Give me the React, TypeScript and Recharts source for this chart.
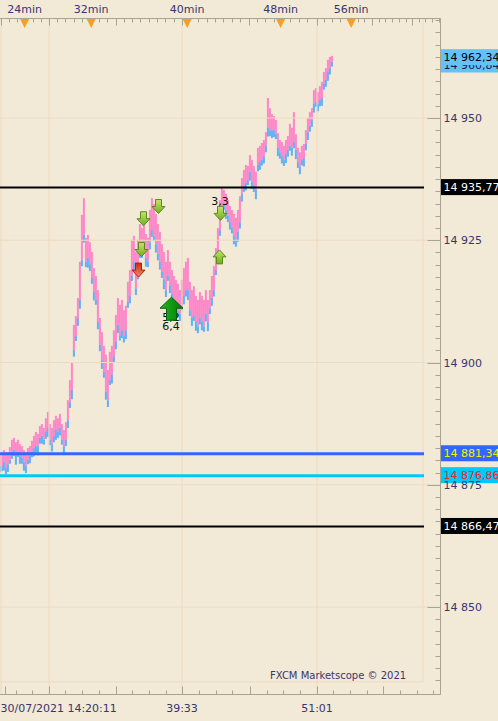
import React from "react";
import { ComposedChart, Bar, XAxis, YAxis, ReferenceLine, ReferenceDot } from "recharts";

// ---- price series (ask high / ask low per tick column, bid spread below) ----
const askHigh = [
  14881.1, 14881.7, 14882.1, 14881.1, 14881.7, 14882.7, 14884.2, 14884.6, 14883.7, 14884.2,
  14883.3, 14882.9, 14882.1, 14881.7, 14882.5, 14882.9, 14884.0, 14885.0, 14885.8, 14885.4,
  14887.0, 14887.4, 14886.6, 14888.6, 14889.9, 14887.4, 14886.6, 14888.2, 14889.1, 14888.6,
  14889.5, 14887.4, 14886.2, 14887.8, 14892.3, 14896.4, 14900.1, 14907.7, 14909.5, 14913.2,
  14920.6, 14930.2, 14933.6, 14925.5, 14926.1, 14924.6, 14922.6, 14919.3, 14917.7, 14914.8,
  14909.1, 14906.2, 14903.4, 14901.6, 14898.5, 14902.2, 14903.4, 14906.6, 14909.7, 14913.2,
  14911.8, 14912.8, 14910.7, 14911.6, 14916.5, 14918.9, 14925.1, 14925.9, 14922.6, 14925.1,
  14928.3, 14927.5, 14928.7, 14926.3, 14925.5, 14931.2, 14933.6, 14932.4, 14930.4, 14928.3,
  14926.7, 14924.2, 14922.6, 14920.6, 14923.0, 14920.6, 14918.9, 14917.7, 14916.9, 14916.1,
  14914.8, 14916.9, 14919.3, 14920.6, 14921.4, 14916.5, 14914.8, 14915.6, 14913.6, 14912.8,
  14914.4, 14913.6, 14912.8, 14914.8, 14912.8, 14914.8, 14917.7, 14919.7, 14923.4, 14927.5,
  14933.2, 14935.7, 14935.3, 14934.5, 14933.2, 14932.0, 14931.2, 14930.4, 14929.6, 14931.2,
  14934.0, 14937.7, 14939.4, 14940.4, 14940.2, 14942.4, 14941.4, 14940.2, 14939.0, 14943.9,
  14944.3, 14944.9, 14945.5, 14947.1, 14954.1, 14952.0, 14950.8, 14950.4, 14949.6, 14946.9,
  14945.5, 14945.1, 14944.3, 14945.5, 14946.3, 14948.8, 14948.0, 14951.2, 14946.7, 14943.9,
  14943.0, 14944.3, 14944.7, 14947.5, 14950.0, 14951.2, 14952.0, 14955.7, 14956.1, 14955.3,
  14956.5, 14957.4, 14959.4, 14960.2, 14961.9, 14962.5, 14962.7,
];
const askLow = [
  14879.0, 14878.8, 14879.7, 14878.4, 14879.2, 14880.1, 14881.7, 14882.1, 14881.1, 14881.7,
  14880.9, 14880.5, 14879.7, 14878.8, 14880.1, 14880.9, 14881.7, 14882.5, 14882.9, 14882.9,
  14884.6, 14885.0, 14884.2, 14885.8, 14886.6, 14884.2, 14883.3, 14885.0, 14886.2, 14885.8,
  14886.6, 14884.2, 14882.9, 14884.2, 14888.2, 14891.9, 14894.4, 14902.6, 14905.4, 14909.1,
  14912.8, 14921.0, 14926.1, 14920.6, 14921.4, 14920.1, 14917.3, 14914.4, 14912.8, 14908.3,
  14903.6, 14900.5, 14898.1, 14894.0, 14892.3, 14896.4, 14897.6, 14901.3, 14904.2, 14907.7,
  14905.6, 14906.6, 14905.4, 14906.6, 14912.4, 14913.6, 14917.7, 14920.6, 14915.2, 14918.9,
  14922.6, 14923.0, 14923.8, 14921.4, 14920.6, 14924.6, 14927.1, 14925.9, 14924.2, 14922.2,
  14920.6, 14918.5, 14916.9, 14914.8, 14917.7, 14915.8, 14914.0, 14912.8, 14912.0, 14910.7,
  14909.9, 14911.8, 14913.6, 14914.8, 14914.8, 14910.7, 14909.1, 14909.5, 14908.3, 14907.4,
  14909.1, 14908.3, 14907.4, 14909.9, 14908.3, 14911.1, 14913.2, 14914.8, 14918.9, 14923.0,
  14927.1, 14931.2, 14932.2, 14931.2, 14930.0, 14928.7, 14927.5, 14925.9, 14925.1, 14926.7,
  14928.7, 14934.5, 14936.1, 14936.7, 14937.3, 14939.0, 14936.9, 14936.1, 14935.3, 14940.4,
  14941.0, 14941.4, 14942.2, 14944.3, 14948.0, 14947.5, 14947.5, 14947.5, 14946.7, 14943.9,
  14943.0, 14942.2, 14941.4, 14942.6, 14943.5, 14944.3, 14943.9, 14945.1, 14943.5, 14941.0,
  14940.0, 14941.4, 14941.8, 14944.7, 14947.1, 14948.4, 14949.6, 14952.9, 14953.3, 14952.9,
  14953.7, 14954.1, 14957.0, 14957.8, 14959.4, 14960.2, 14961.5,
];
const bidSpread = [
  1.4, 1.0, 1.8, 1.2, 1.6, 0.8, 1.4, 1.2, 2.0, 1.0,
  1.6, 1.2, 1.8, 1.4, 0.9, 1.5, 1.1, 1.7, 1.3, 1.9,
  1.2, 1.6, 1.0, 1.4, 1.8, 1.1, 1.5, 1.3, 2.0, 1.2,
  1.5, 1.0, 1.7, 1.3, 1.6, 1.2, 1.9, 1.4, 1.0, 1.6,
  1.8, 1.3, 1.6, 1.1, 2.0, 1.4, 1.2, 1.7, 1.0, 1.5,
  1.3, 1.8, 1.2, 1.6, 1.4, 1.0, 1.9, 1.3, 1.5, 1.7,
  1.1, 1.6, 1.3, 1.8, 1.2, 1.5, 1.0, 1.7, 1.4, 1.9,
  1.2, 1.6, 1.3, 1.8, 1.1, 1.5, 1.4, 1.0, 1.7, 1.3,
  1.6, 1.2, 1.9, 1.4, 1.0, 1.6, 1.3, 1.8, 1.2, 1.5,
  1.4, 1.1, 1.7, 1.3, 2.0, 1.2, 1.6, 1.0, 1.8, 1.4,
  1.3, 1.7, 1.1, 1.5, 1.9, 1.2, 1.6, 1.3, 1.0, 1.4,
  1.2, 1.6, 1.0, 1.8, 1.3, 1.5, 1.1, 1.7, 1.4, 2.0,
  1.3, 1.6, 1.2, 1.5, 1.0, 1.8, 1.4, 1.2, 1.9, 1.3,
  1.6, 1.1, 1.5, 1.3, 1.8, 1.2, 1.6, 1.4, 1.0, 1.7,
  1.3, 1.5, 1.2, 1.8, 1.4, 1.0, 1.6, 1.3, 1.9, 1.2,
  1.5, 1.1, 1.7, 1.3, 1.6, 1.2, 1.4, 1.8, 1.0, 1.5,
  1.3, 1.6, 1.2, 1.4, 1.8, 1.3, 1.0,
];

// ---- axes ----
const Y_MIN = 14832.11;
const Y_MAX = 14970.35;
const X_MAX = 220.25;
const yLabelValues = [14850, 14875, 14900, 14925, 14950];
const yTickValues: number[] = [];
for (let v = 14835; v <= 14970; v += 2.5) yTickValues.push(v);

const topLabelText = ["24min", "32min", "40min", "48min", "56min"];
const topLabelIdx = [12.3, 45.6, 93.6, 140.3, 175.6];
const topMinorIdx = [
  0.5, 4.5, 8.5, 16.5, 20.5, 24.5, 28.5, 32.5, 37, 41, 49.5, 53.5, 58, 62, 66, 70, 74.5,
  78.5, 82.5, 87, 91, 99, 103.5, 107.5, 111.5, 116, 120, 124.5, 128.5, 132.5, 137, 145,
  149.5, 153.5, 158.5, 162, 166, 170, 179, 182, 186, 189.5, 192.5, 196, 199.5, 203, 206,
  209.5, 212.5, 216, 219.5,
];
const topLongIdx = [0.5, 24.5, 58, 91, 124.5, 158.5, 186, 206];

const bottomTickIdx = [
  2.5, 8, 16, 24.5, 32.5, 41, 49.5, 58, 66, 74.5, 83, 91, 99.5, 108, 116, 125, 133.5,
  141.5, 150, 158.5, 166.5, 175, 183.5, 191.5, 200, 208.5, 216.5,
];
const bottomLongIdx = [2.5, 24.5, 58, 91, 125, 158.5, 191.5];
const bottomLabelText = ["30/07/2021 14:20:11", "39:33", "51:01"];
const bottomLabelIdx = [24.5, 91, 158.5];
const gridIdx = [0.5, 24.5, 91, 158.5];
const frameIdx = 211.5;
const framePrice = 14834.7;

// ---- horizontal levels ----
const levelValues = [14935.77, 14881.34, 14876.86, 14866.47];
const levelColors = ["#000000", "#3366FF", "#00C8F8", "#000000"];
const levelWidths = [2, 3, 3, 2];
const levelTagFg = ["#FFFFFF", "#F2F200", "#FF2020", "#FFFFFF"];
const levelEndIdx = 212;

const bidPrice = 14960.84;
const askPrice = 14962.34;

// ---- signals ----
const sigIdx = [71.75, 79.25, 70.75, 69.25, 110.25, 109.75, 85.75];
const sigPrice = [14929.4, 14931.9, 14923.1, 14918.9, 14930.5, 14921.6, 14911.0];
const sigKind = ["sellG", "sellG", "sellG", "sellR", "sellG", "buyG", "buyBig"];

const noteIdx = [110, 85.5, 85.5];
const notePrice = [14933.0, 14909.3, 14907.5];
const noteText = ["3,3", "5,2", "6,4"];

// ---- styles ----
const BG = "#F2E9D6";
const GRID = "#EEDAC0";
const AXIS = "#ABA392";
const TEXT = "#38366E";
const PINK = "#FF86C8";
const BLUE = "#5EB1FA";
const ORANGE = "#F5A020";
const TAGBLUE = "#63C2F9";
const FONT = "'DejaVu Sans', Verdana, sans-serif";

const fmtInt = (v: number) => {
  const s = String(Math.round(v));
  return s.slice(0, s.length - 3) + " " + s.slice(s.length - 3);
};
const fmtPrice = (v: number) => {
  const [a, b] = v.toFixed(2).split(".");
  return fmtInt(Number(a)) + "," + b;
};

const rows = askHigh.map((h, i) => ({
  i,
  range: [Number((askLow[i] - bidSpread[i]).toFixed(2)), h],
  askLow: askLow[i],
}));

const Column = (p: any) => {
  const { x, y, width, height, payload } = p;
  if (x == null || y == null) return null;
  const top = Math.min(y, y + height);
  const h = Math.abs(height);
  const [lo, hi] = payload.range;
  const frac = (hi - payload.askLow) / (hi - lo);
  const ph = h * frac;
  const cx = x + width / 2;
  return (
    <g>
      <rect x={cx - 1} y={top} width={2} height={ph} fill={PINK} />
      <rect x={cx - 1} y={top + ph} width={2} height={h - ph} fill={BLUE} />
    </g>
  );
};

const TopTick = (p: any) => {
  const { x, y, payload } = p;
  const v = payload.value;
  const li = topLabelIdx.indexOf(v);
  if (li >= 0) {
    return (
      <g>
        <polygon points={`${x - 4.5},${y + 0.5} ${x + 4.5},${y + 0.5} ${x},${y + 9.5}`} fill={ORANGE} />
        <text x={x} y={y - 5.5} textAnchor="middle" fontSize={11} fontFamily={FONT} fill={TEXT}>
          {topLabelText[li]}
        </text>
      </g>
    );
  }
  const len = topLongIdx.includes(v) ? 7 : 4;
  const xx = Math.round(x) + 0.5;
  return <line x1={xx} x2={xx} y1={y} y2={y + len} stroke={AXIS} strokeWidth={1} />;
};

const BottomTick = (p: any) => {
  const { x, y, payload } = p;
  const v = payload.value;
  const li = bottomLabelIdx.indexOf(v);
  const len = bottomLongIdx.includes(v) ? 8 : 4;
  const xx = Math.round(x) + 0.5;
  const label = li >= 0 ? bottomLabelText[li] : null;
  const w = label ? label.length * 6.4 : 0;
  const clamp = label && x - w / 2 < 0;
  return (
    <g>
      <line x1={xx} x2={xx} y1={y} y2={y - len} stroke={AXIS} strokeWidth={1} />
      {label && (
        <text
          x={clamp ? 0.5 : x}
          y={y + 17.5}
          textAnchor={clamp ? "start" : "middle"}
          fontSize={11}
          fontFamily={FONT}
          fill={TEXT}
        >
          {label}
        </text>
      )}
    </g>
  );
};

const RightTick = (p: any) => {
  const { x, y, payload } = p;
  const v = payload.value;
  const major = yLabelValues.includes(v);
  const len = major ? 13 : 5;
  const yy = Math.round(y) + 0.5;
  return (
    <g>
      <line x1={x - len} x2={x} y1={yy} y2={yy} stroke={AXIS} strokeWidth={1} />
      {major && (
        <text x={x + 3} y={y + 4} fontSize={11} fontFamily={FONT} fill={TEXT}>
          {fmtInt(v)}
        </text>
      )}
    </g>
  );
};

const Tag = (p: any) => {
  const vb = p.viewBox;
  if (!vb) return null;
  const x = vb.x + vb.width + 0.5;
  const cy = vb.y - 0.5;
  return (
    <g>
      <rect x={x} y={cy - 8} width={60} height={16} fill={p.bg} />
      <text x={x + 2.5} y={cy + 4} fontSize={11} fontFamily={FONT} fill={p.fg}>
        {p.text}
      </text>
    </g>
  );
};

const Arrow = ({ cx, cy, kind }: any) => {
  if (cx == null || cy == null) return null;
  if (kind === "buyBig") {
    const pts = [
      [cx, cy - 11.5], [cx + 11.5, cy - 0.5], [cx + 5, cy - 0.5], [cx + 5, cy + 11.5],
      [cx - 5, cy + 11.5], [cx - 5, cy - 0.5], [cx - 11.5, cy - 0.5],
    ].map((q) => q.join(",")).join(" ");
    return (
      <g>
        <defs>
          <linearGradient id="gBig" x1="0" y1="0" x2="1" y2="0">
            <stop offset="0" stopColor="#2FB22F" />
            <stop offset="0.5" stopColor="#109A10" />
            <stop offset="1" stopColor="#057A05" />
          </linearGradient>
        </defs>
        <polygon points={pts} fill="url(#gBig)" stroke="#066006" strokeWidth={1} />
      </g>
    );
  }
  const up = kind === "buyG";
  const s = up ? -1 : 1;
  const pts = [
    [cx - 3, cy - 7 * s], [cx + 3, cy - 7 * s], [cx + 3, cy], [cx + 6.5, cy],
    [cx, cy + 7 * s], [cx - 6.5, cy], [cx - 3, cy],
  ].map((q) => q.join(",")).join(" ");
  const red = kind === "sellR";
  return (
    <g>
      <defs>
        <linearGradient id="gGreen" x1="0" y1="0" x2="0" y2="1">
          <stop offset="0" stopColor="#C4E46A" />
          <stop offset="1" stopColor="#6EAE22" />
        </linearGradient>
        <linearGradient id="gRed" x1="0" y1="0" x2="0" y2="1">
          <stop offset="0" stopColor="#D22A12" />
          <stop offset="1" stopColor="#F48A66" />
        </linearGradient>
      </defs>
      <polygon
        points={pts}
        fill={red ? "url(#gRed)" : "url(#gGreen)"}
        stroke={red ? "#A02410" : "#5C8A18"}
        strokeWidth={1}
      />
    </g>
  );
};

const Note = ({ cx, cy, text }: any) => {
  if (cx == null || cy == null) return null;
  return (
    <text x={cx} y={cy + 4} textAnchor="middle" fontSize={11} fontFamily={FONT} fill="#111111">
      {text}
    </text>
  );
};

export default function App() {
  return (
    <div
      style={{
        position: "absolute",
        left: 0,
        top: 0,
        width: 498,
        height: 721,
        background: BG,
        overflow: "hidden",
      }}
    >
      <ComposedChart width={498} height={721} data={rows} margin={{ top: 0, right: 0, bottom: 0, left: 0 }}>
        {yLabelValues.map((v) => (
          <ReferenceLine key={"gh" + v} y={v} stroke={GRID} strokeWidth={1} />
        ))}
        {gridIdx.map((v) => (
          <ReferenceLine key={"gv" + v} x={v} stroke={GRID} strokeWidth={1} />
        ))}
        <ReferenceLine segment={[{ x: frameIdx, y: Y_MAX }, { x: frameIdx, y: framePrice }]} stroke={GRID} strokeWidth={1} ifOverflow="extendDomain" />
        <ReferenceLine segment={[{ x: 0, y: framePrice }, { x: frameIdx, y: framePrice }]} stroke={GRID} strokeWidth={1} />

        <XAxis
          xAxisId={0}
          dataKey="i"
          type="number"
          domain={[0, X_MAX]}
          allowDataOverflow
          orientation="bottom"
          height={26.5}
          ticks={bottomTickIdx}
          interval={0}
          tickSize={0}
          tickMargin={0}
          tickLine={false}
          stroke={AXIS}
          tick={<BottomTick />}
        />
        <XAxis
          xAxisId="t"
          dataKey="i"
          type="number"
          domain={[0, X_MAX]}
          allowDataOverflow
          orientation="top"
          height={18.5}
          ticks={[...topMinorIdx, ...topLabelIdx]}
          interval={0}
          tickSize={0}
          tickMargin={0}
          tickLine={false}
          stroke={AXIS}
          tick={<TopTick />}
        />
        <YAxis
          yAxisId={0}
          type="number"
          domain={[Y_MIN, Y_MAX]}
          allowDataOverflow
          orientation="right"
          width={57.5}
          ticks={yTickValues}
          interval={0}
          tickSize={0}
          tickMargin={0}
          tickLine={false}
          stroke={AXIS}
          tick={<RightTick />}
        />

        <Bar dataKey="range" barSize={2} shape={<Column />} isAnimationActive={false} />

        {levelValues.map((v, k) => (
          <ReferenceLine
            key={"lv" + v}
            segment={[{ x: 0, y: v }, { x: levelEndIdx, y: v }]}
            stroke={levelColors[k]}
            strokeWidth={levelWidths[k]}
          />
        ))}

        {noteText.map((t, k) => (
          <ReferenceDot
            key={"n" + k}
            x={noteIdx[k]}
            y={notePrice[k]}
            r={0}
            shape={(pp: any) => <Note cx={pp.cx} cy={pp.cy} text={t} />}
          />
        ))}
        {sigKind.map((kind, k) => (
          <ReferenceDot
            key={"s" + k}
            x={sigIdx[k]}
            y={sigPrice[k]}
            r={0}
            shape={(pp: any) => <Arrow cx={pp.cx} cy={pp.cy} kind={kind} />}
          />
        ))}

        <ReferenceLine y={bidPrice} stroke="none" label={<Tag bg={TAGBLUE} fg="#1A1A40" text={fmtPrice(bidPrice)} />} />
        <ReferenceLine y={askPrice} stroke="none" label={<Tag bg={TAGBLUE} fg="#000000" text={fmtPrice(askPrice)} />} />
        {levelValues.map((v, k) => (
          <ReferenceLine
            key={"tag" + v}
            y={v}
            stroke="none"
            label={<Tag bg={levelColors[k]} fg={levelTagFg[k]} text={fmtPrice(v)} />}
          />
        ))}
      </ComposedChart>
      <div
        style={{
          position: "absolute",
          left: 270,
          top: 670,
          fontSize: 10,
          lineHeight: "12px",
          fontFamily: FONT,
          color: TEXT,
          whiteSpace: "nowrap",
        }}
      >
        FXCM Marketscope © 2021
      </div>
    </div>
  );
}
